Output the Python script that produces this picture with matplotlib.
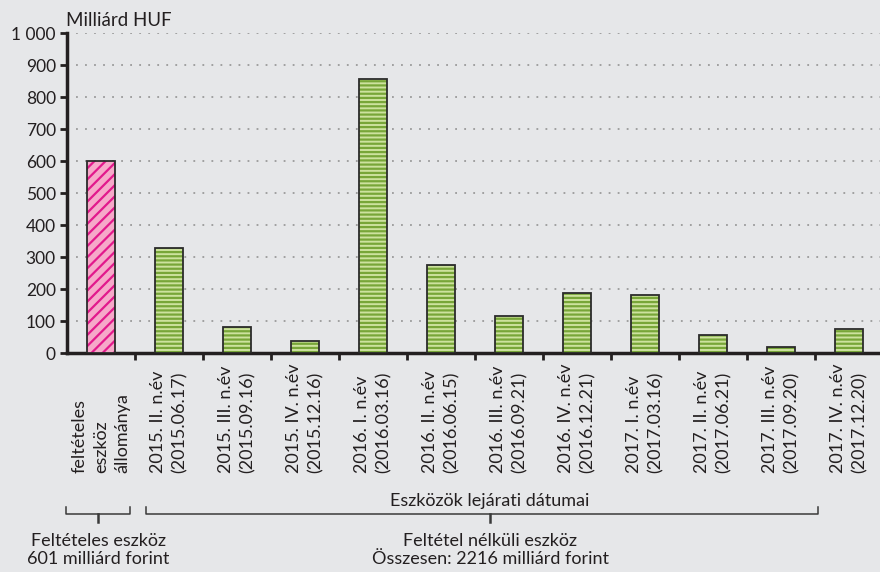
import matplotlib
matplotlib.use("Agg")
import matplotlib.pyplot as plt
import numpy as np

plt.rcParams["font.family"] = ["Lato", "DejaVu Sans"]
plt.rcParams["hatch.linewidth"] = 1.6

categories = [
    "feltételes\neszköz\nállománya",
    "2015. II. n.év\n(2015.06.17)",
    "2015. III. n.év\n(2015.09.16)",
    "2015. IV. n.év\n(2015.12.16)",
    "2016. I. n.év\n(2016.03.16)",
    "2016. II. n.év\n(2016.06.15)",
    "2016. III. n.év\n(2016.09.21)",
    "2016. IV. n.év\n(2016.12.21)",
    "2017. I. n.év\n(2017.03.16)",
    "2017. II. n.év\n(2017.06.21)",
    "2017. III. n.év\n(2017.09.20)",
    "2017. IV. n.év\n(2017.12.20)",
]
values = [601, 327, 80, 37, 856, 274, 115, 187, 180, 56, 20, 76]
yticks = [0, 100, 200, 300, 400, 500, 600, 700, 800, 900, 1000]
ytick_labels = ["0", "100", "200", "300", "400", "500", "600", "700", "800", "900", "1 000"]

BG = "#e6e7e9"
DARK = "#231f20"

W, H = 880, 572
fig = plt.figure(figsize=(W / 100, H / 100), dpi=100, facecolor=BG)
x0, x1, y0, y1 = 67, 883, 353, 33
ax = fig.add_axes([x0 / W, 1 - y0 / H, (x1 - x0) / W, (y0 - y1) / H])
ax.set_facecolor(BG)

x = np.arange(len(values))
bw = 0.41
# conditional asset: pink with magenta diagonal hatch
ax.bar(x[:1], values[:1], width=bw, color="#f6a9c9", edgecolor="#e2198c",
       hatch="///", linewidth=0, zorder=3)
# unconditional: light green with dark green horizontal stripes
ax.bar(x[1:], values[1:], width=bw, color="#cde29e", edgecolor="#78a638",
       hatch="----", linewidth=0, zorder=3)
ax.bar(x, values, width=bw, fill=False, edgecolor="#2b2b2b", linewidth=1.3, zorder=4)

ax.set_xlim(-0.5, len(values) - 0.5)
ax.set_ylim(0, 1000)
ax.set_yticks(yticks)
ax.set_yticklabels(ytick_labels, fontsize=12.5, color=DARK)
ax.set_xticks(np.arange(len(values)) + 0.5)
ax.set_xticklabels([])
ax.tick_params(axis="y", direction="out", length=5, width=2, color=DARK, pad=3)
ax.tick_params(axis="x", direction="out", length=5, width=2, color=DARK)
for s in ["top", "right"]:
    ax.spines[s].set_visible(False)
for s in ["left", "bottom"]:
    ax.spines[s].set_color(DARK)
    ax.spines[s].set_linewidth(2.5)
ax.yaxis.grid(True, color="#9a9a9a", linestyle=(0, (1, 4)), linewidth=1.3, zorder=1)
ax.set_axisbelow(True)

fig.text(66 / W, 1 - 20 / H, "Milliárd HUF", fontsize=13.5, color=DARK,
         ha="left", va="center")

# rotated category labels below the axis
for i, lab in enumerate(categories):
    xc = (x0 + (i + 0.5) * 68) / W
    fig.text(xc, 1 - 473 / H, lab, rotation=90, ha="center", va="bottom",
             multialignment="left", fontsize=13, color=DARK, linespacing=1.4)

fig.text(490 / W, 1 - 501 / H, "Eszközök lejárati dátumai", fontsize=13,
         color=DARK, ha="center", va="center")


def bracket(xa, xb, xm, yl=514, ytop=507, ybot=522):
    pts_x = [xa, xa, xb, xb]
    pts_y = [ytop, yl, yl, ytop]
    fig.add_artist(plt.Line2D(pts_x, [H - p for p in pts_y], color="#3a3a3a",
                              lw=1.1, transform=None))
    fig.add_artist(plt.Line2D([xm, xm], [H - yl, H - ybot], color="#3a3a3a", lw=1.8,
                              transform=None))


bracket(66, 130, 98)
bracket(146, 818, 490)

fig.text(98 / W, 1 - 550 / H, "Feltételes eszköz\n601 milliárd forint", fontsize=13,
         color=DARK, ha="center", va="center", linespacing=1.1)
fig.text(490 / W, 1 - 550 / H, "Feltétel nélküli eszköz\nÖsszesen: 2216 milliárd forint",
         fontsize=13, color=DARK, ha="center", va="center", linespacing=1.1)

fig.savefig("out.png", dpi=100, facecolor=BG)
